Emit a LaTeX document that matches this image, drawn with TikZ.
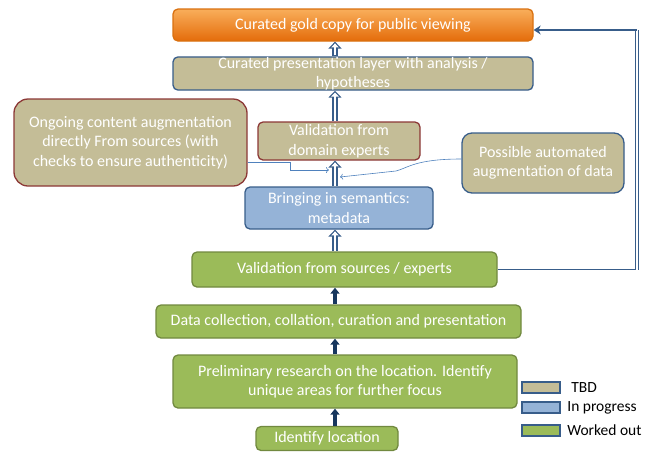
\documentclass[tikz,border=0pt]{standalone}
\usepackage{fontspec}
\setmainfont{Carlito}
\usepackage{tikz}
\usetikzlibrary{arrows.meta,positioning,calc}
\definecolor{tanfill}{HTML}{C4BD97}
\definecolor{blueedge}{HTML}{385D8A}
\definecolor{bluefill}{HTML}{95B3D7}
\definecolor{greenfill}{HTML}{9BBB59}
\definecolor{greenedge}{HTML}{71893F}
\definecolor{rededge}{HTML}{8C3836}
\definecolor{navy}{HTML}{17375E}
\definecolor{feedblue}{HTML}{4F81BD}
\definecolor{orangetop}{HTML}{F9AE5B}
\definecolor{orangebot}{HTML}{E46C0A}
\definecolor{orangeedge}{HTML}{D9700F}

\begin{document}
\begin{tikzpicture}[
    x=1pt, y=-1pt,
    every node/.style={rounded corners=5pt, line width=1.3pt, align=center, inner sep=0pt,
        text=white, font=\fontsize{16}{19.5}\selectfont},
    gold/.style={draw=orangeedge, top color=orangetop, bottom color=orangebot},
    tbd/.style={draw=blueedge, fill=tanfill},
    tbdred/.style={draw=rededge, fill=tanfill},
    prog/.style={draw=blueedge, fill=bluefill},
    done/.style={draw=greenedge, fill=greenfill},
    key/.style={minimum width=38pt, minimum height=11pt, rounded corners=0pt, line width=1.5pt, draw=blueedge},
    legtext/.style={text=black, font=\fontsize{15.5}{18}\selectfont},
    hollowedge/.style={draw=blueedge, line width=6pt, -{Triangle[width=13pt,length=7pt]}},
    hollowcore/.style={draw=white, line width=2.8pt, -{Triangle[width=7.5pt,length=4pt]}, shorten >=1.8pt, shorten <=0.8pt},
    push/.style={draw=navy, line width=3.6pt, -{Triangle[width=9pt,length=6pt]}},
    feed/.style={draw=feedblue, line width=0.6pt, -{To[length=3pt,width=6pt]}},
    loopline/.style={draw=blueedge, line width=1.8pt},
    loopdouble/.style={draw=blueedge, line width=1.2pt, double=white, double distance=2pt}
]
    \useasboundingbox (0,0) rectangle (654,451);

    \node[gold, minimum width=360pt, minimum height=32pt] (goldcopy) at (353,25)
        {Curated gold copy for public viewing};
    \node[tbd, minimum width=360pt, minimum height=33pt] (present) at (353,73.5)
        {Curated presentation layer with analysis /\\hypotheses};
    \node[tbdred, minimum width=162pt, minimum height=38pt] (domain) at (339,141)
        {Validation from\\domain experts};
    \node[tbdred, rounded corners=14pt, minimum width=233pt, minimum height=87pt] (ongoing) at (130.5,142.5)
        {Ongoing content augmentation\\directly From sources (with\\checks to ensure authenticity)};
    \node[tbd, rounded corners=10pt, minimum width=162pt, minimum height=60pt] (possible) at (543,163)
        {Possible automated\\augmentation of data};
    \node[prog, minimum width=188pt, minimum height=42pt] (semantics) at (339,208)
        {Bringing in semantics:\\metadata};
    \node[done, minimum width=305pt, minimum height=35pt] (sources) at (344.5,269.5)
        {Validation from sources / experts};
    \node[done, minimum width=365pt, minimum height=33pt] (collect) at (338.5,321.5)
        {Data collection, collation, curation and presentation};
    \node[done, minimum width=344pt, minimum height=53pt] (prelim) at (345,381.5)
        {Preliminary research on the location. Identify\\unique areas for further focus};
    \node[done, minimum width=142pt, minimum height=24pt] (locate) at (327,438.5)
        {Identify location};

    \coordinate (spine) at (335,0);
    \foreach \lo/\hi in {present/goldcopy, domain/present, semantics/domain, sources/semantics} {
        \draw[hollowedge] (\lo.north -| spine) -- (\hi.south -| spine);
        \draw[hollowcore] (\lo.north -| spine) -- (\hi.south -| spine);
    }
    \foreach \lo/\hi in {collect/sources, prelim/collect, locate/prelim}
        \draw[push] (\lo.north -| spine) -- (\hi.south -| spine);

    \coordinate (augdirect) at (329,170);
    \coordinate (augauto) at (340,177);
    \draw[feed] ([yshift=-19.5pt]ongoing.east) -- ++(43,0) -- ++(0,8) -- (augdirect);
    \draw[feed] ([yshift=4pt]possible.west) .. controls (415,159) and (408,168) .. (396,171) -- (augauto);

    \coordinate (loopbot) at (637,269.5);
    \coordinate (looptop) at (637,30);
    \draw[loopline] (sources.east) -- (loopbot);
    \draw[loopdouble] (loopbot) -- (looptop);
    \draw[loopline, -{Stealth[width=9pt,length=7pt]}] (looptop) -- (goldcopy.east |- looptop);

    \node[tbd, key] (keytbd) at (541,387.5) {};
    \node[prog, key] (keyprog) at (541,407.5) {};
    \node[done, key] (keydone) at (541,430.5) {};
    \node[legtext, right=10pt of keytbd] (labtbd) {TBD};
    \node[legtext, right=6pt of keyprog] (labprog) {In progress};
    \node[legtext, right=6pt of keydone] (labdone) {Worked out};
\end{tikzpicture}
\end{document}
